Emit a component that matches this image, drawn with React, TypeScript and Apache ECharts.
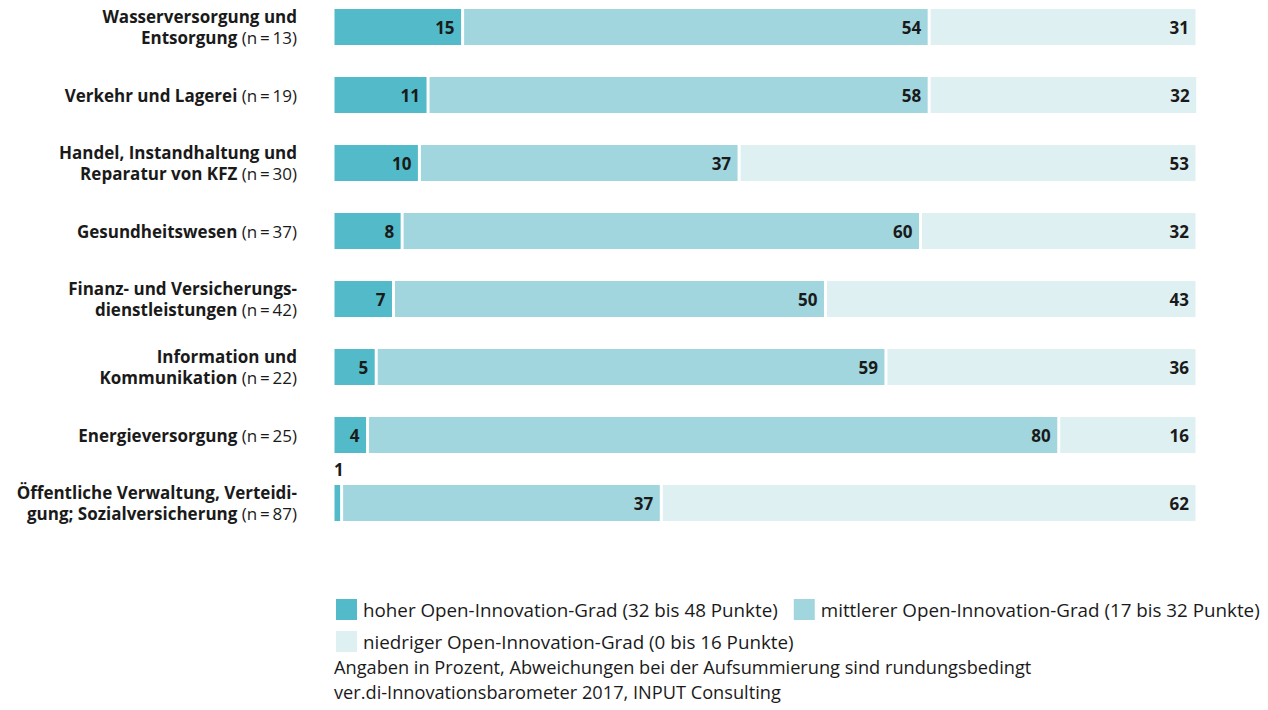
import React, { useEffect, useRef } from "react";
import * as echarts from "echarts";

const categoriesBold = [
  "Wasserversorgung und\nEntsorgung",
  "Verkehr und Lagerei",
  "Handel, Instandhaltung und\nReparatur von KFZ",
  "Gesundheitswesen",
  "Finanz- und Versicherungs-\ndienstleistungen",
  "Information und\nKommunikation",
  "Energieversorgung",
  "Öffentliche Verwaltung, Verteidi-\ngung; Sozialversicherung",
];
const categoryN = [13, 19, 30, 37, 42, 22, 25, 87];

const seriesNames = [
  "hoher Open-Innovation-Grad (32 bis 48 Punkte)",
  "mittlerer Open-Innovation-Grad (17 bis 32 Punkte)",
  "niedriger Open-Innovation-Grad (0 bis 16 Punkte)",
];
const hoch = [15, 11, 10, 8, 7, 5, 4, 1];
const mittel = [54, 58, 37, 60, 50, 59, 80, 37];
const niedrig = [31, 32, 53, 32, 43, 36, 16, 62];

const footnotes = [
  "Angaben in Prozent, Abweichungen bei der Aufsummierung sind rundungsbedingt",
  "ver.di-Innovationsbarometer 2017, INPUT Consulting",
];

const colors = ["#52bac8", "#a1d6df", "#dff0f3"];
const FONT = "'Open Sans', 'Noto Sans', sans-serif";
const TEXT = "#1a1a1a";
const SHIFT = 7;

export default function App() {
  const ref = useRef<HTMLDivElement>(null);
  useEffect(() => {
    if (!ref.current) return;
    const chart = echarts.init(ref.current, undefined, { renderer: "svg" });
    const cats = categoriesBold.map((c, i) => {
      const lines = c.split("\n");
      const last = lines.pop();
      const pre = lines.map((l) => `{b|${l}}`).join("\n");
      return (pre ? pre + "\n" : "") + `{b|${last}}{n| (n\u2009=\u2009${categoryN[i]})}`;
    });
    const valueLabel = {
      show: true,
      position: "insideRight" as const,
      distance: 8,
      color: TEXT,
      fontFamily: FONT,
      fontWeight: "bold" as const,
      fontSize: 17,
    };
    const mk = (name: string, data: number[], idx: number) => ({
      name,
      type: "bar",
      stack: "total",
      barWidth: 39,
      clip: true,
      itemStyle: { color: colors[idx], borderColor: "#ffffff", borderWidth: 1.5 },
      label: valueLabel,
      data: data.map((v) => {
        if (idx === 0 && v < 3) {
          return {
            value: v,
            label: {
              position: [1, -23],
              align: "left",
              verticalAlign: "top",
            },
          };
        }
        return v;
      }),
    });
    chart.setOption({
      animation: false,
      grid: { left: 333, right: 71, top: 0, height: 544, containLabel: false },
      xAxis: {
        type: "value",
        min: 0,
        max: 100,
        show: false,
      },
      yAxis: {
        type: "category",
        inverse: true,
        data: cats,
        axisLine: { show: false },
        axisTick: { show: false },
        splitLine: { show: false },
        axisLabel: {
          margin: 36,
          align: "right",
          rich: {
            b: { fontFamily: FONT, fontWeight: "bold", fontSize: 17, color: TEXT, lineHeight: 21 },
            n: { fontFamily: FONT, fontWeight: "normal", fontSize: 17, color: TEXT, lineHeight: 21 },
          },
        },
      },
      legend: [
        {
          data: [seriesNames[0], seriesNames[1]],
          left: 334,
          top: 597 + SHIFT,
          padding: 0,
          itemWidth: 23,
          itemHeight: 23,
          itemGap: 14,
          icon: "rect",
          selectedMode: false,
          textStyle: { fontFamily: FONT, fontSize: 18.8, color: TEXT },
        },
        {
          data: [seriesNames[2]],
          left: 334,
          top: 629 + SHIFT,
          padding: 0,
          itemWidth: 23,
          itemHeight: 23,
          icon: "rect",
          selectedMode: false,
          textStyle: { fontFamily: FONT, fontSize: 18.8, color: TEXT },
        },
      ],
      graphic: [
        {
          type: "text",
          left: 334,
          top: 654 + SHIFT,
          style: {
            text: footnotes.join("\n"),
            fontFamily: FONT,
            fontSize: 18.2,
            lineHeight: 25,
            fill: TEXT,
          },
        },
      ],
      series: [mk(seriesNames[0], hoch, 0), mk(seriesNames[1], mittel, 1), mk(seriesNames[2], niedrig, 2)],
    });
    return () => chart.dispose();
  }, []);
  return (
    <div
      ref={ref}
      style={{ position: "absolute", left: 0, top: -SHIFT, width: 1268, height: 710 + SHIFT }}
    />
  );
}
